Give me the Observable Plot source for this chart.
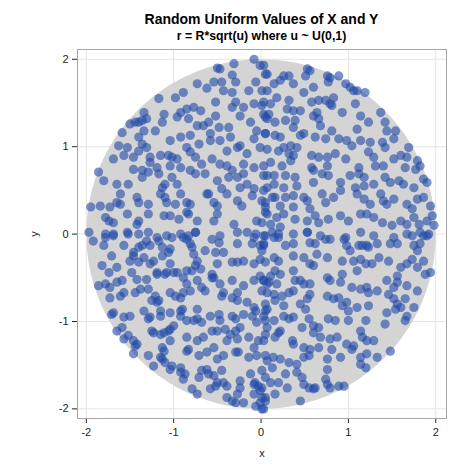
<!DOCTYPE html>
<html><head><meta charset="utf-8">
<script src="https://cdn.jsdelivr.net/npm/d3@7"></script>
<script src="https://cdn.jsdelivr.net/npm/@observablehq/plot@0.6"></script>
<style>
body{margin:0;background:#fff;font-family:"Liberation Sans",Arial,sans-serif;}
#head{position:relative;width:474px;height:44px;}
#head div{position:absolute;left:261.5px;transform:translateX(-50%);white-space:nowrap;font-weight:bold;color:#000;line-height:1;}
#t1{top:12px;font-size:14px;}
#t2{top:30px;font-size:12.3px;}
</style></head><body>
<div id="head"><div id="t1"></div><div id="t2"></div></div>
<div id="chart"></div>
<script>
const titleText = "Random Uniform Values of X and Y";
const subtitleText = "r = R*sqrt(u) where u ~ U(0,1)";
const xLabel = "x";
const yLabel = "y";
const tickValues = [-2, -1, 0, 1, 2];
const R = 2;

const upperLeft = [
[-0.08,2.00],[-0.01,1.93],[0.05,1.83],[-0.50,1.90],[-0.47,1.89],[-0.31,1.95],[-0.33,1.82],
[-0.54,1.74],[-0.45,1.74],[-0.29,1.74],[-0.62,1.67],[-0.73,1.72],[-0.33,1.62],[-0.14,1.64],[-0.06,1.74],[0.01,1.64],[-0.43,1.64],
[-0.98,1.56],[-0.89,1.62],[-1.17,1.55],[-0.52,1.51],[-0.29,1.51],[-0.20,1.45],[-0.08,1.49],[0.03,1.51],[-0.33,1.45],[-0.77,1.45],[-0.69,1.41],[-0.92,1.39],[-0.85,1.43],
[-1.34,1.39],[-1.44,1.28],[-1.40,1.28],[-1.36,1.30],[-1.50,1.26],[-1.59,1.16],[-1.31,1.32],[-1.11,1.37],[-1.13,1.28],[-0.96,1.34],[-0.83,1.32],[-0.73,1.24],[-0.60,1.28],[-0.52,1.35],[-0.48,1.22],[-0.37,1.22],[-0.24,1.35],[-0.12,1.28],[0.03,1.37],[0.07,1.32],[-0.05,1.18],[-0.58,1.15],[-0.66,1.24],
[-1.63,1.01],[-1.53,0.99],[-1.40,1.11],[-1.34,1.18],[-1.36,1.03],[-1.31,0.99],[-1.21,1.18],[-1.04,1.07],[-0.92,1.11],[-0.81,1.13],[-0.71,1.03],[-0.85,0.99],[-0.58,1.07],[-0.47,1.07],[-0.35,1.11],[-0.24,1.01],[-0.08,1.09],[0.05,1.15],[-0.39,0.95],[-0.27,0.99],[-0.16,0.92],[-0.01,0.99],
[-1.69,0.86],[-1.57,0.90],[-1.46,0.88],[-1.40,0.95],[-1.27,0.88],[-1.15,0.90],[-1.06,0.90],[-1.02,0.88],[-0.96,0.86],[-0.81,0.94],[-0.75,0.88],[-0.92,0.76],[-1.04,0.78],[-1.19,0.76],[-1.46,0.74],[-1.36,0.73],[-1.27,0.82],[-0.68,0.80],[-0.56,0.86],[-0.47,0.80],[-0.39,0.78],[-0.33,0.73],[-0.20,0.80],[-0.08,0.76],[0.03,0.78],[-0.20,0.69],[0.07,0.67],
[-1.86,0.71],[-1.80,0.61],[-1.65,0.57],[-1.52,0.57],[-1.36,0.65],[-1.29,0.71],[-1.17,0.69],[-1.13,0.53],[-1.10,0.57],[-1.02,0.65],[-0.96,0.57],[-0.81,0.73],[-0.75,0.69],[-0.64,0.69],[-0.50,0.61],[-0.45,0.52],[-0.37,0.65],[-0.27,0.65],[-0.24,0.53],[-0.16,0.57],[-0.08,0.52],[0.03,0.50],[0.05,0.36],[-0.62,0.46],
[-1.61,0.46],[-1.65,0.36],[-1.61,0.34],[-1.40,0.36],[-1.29,0.34],[-1.42,0.42],[-1.15,0.46],[-1.10,0.42],[-1.08,0.36],[-0.92,0.46],[-0.85,0.36],[-0.81,0.34],[-0.98,0.34],[-0.54,0.36],[-0.50,0.32],[-0.60,0.46],[-0.39,0.46],[-0.27,0.38],[-0.22,0.32],[-0.10,0.44],[0.01,0.38],[-1.95,0.31],[-1.84,0.32],[-1.73,0.31],
[-1.78,0.19],[-1.74,0.15],[-1.69,0.13],[-1.53,0.23],[-1.40,0.15],[-1.42,0.11],[-1.29,0.23],[-1.11,0.21],[-1.04,0.21],[-0.94,0.17],[-0.85,0.25],[-0.83,0.23],[-0.73,0.15],[-0.54,0.15],[-0.50,0.23],[-0.31,0.11],[-0.05,0.15],[0.01,0.13],[0.05,0.25],
[-1.97,0.02],[-1.78,0.00],[-1.69,0.00],[-1.53,0.02],[-1.40,0.00],[-1.29,0.02],[-1.19,-0.04],[-1.02,-0.04],[-0.89,-0.04],[-0.83,-0.02],[-0.75,0.02],[-0.56,-0.06],[-0.47,-0.02],[-0.27,0.02],[-0.16,0.02],[-0.06,0.00],[0.05,-0.02]
];

const upperRight = [
[0.03,1.93],[0.07,1.83],[0.26,1.81],[0.32,1.81],[0.22,1.76],[0.37,1.72],[0.53,1.89],[0.56,1.87],[0.51,1.81],[0.49,1.62],[0.60,1.68],[0.76,1.81],[0.79,1.79],[0.77,1.74],[0.89,1.81],[0.97,1.72],[1.02,1.68],[1.06,1.64],[1.10,1.64],[1.19,1.62],[0.07,1.64],[0.15,1.72],
[0.01,1.47],[0.11,1.49],[0.18,1.56],[0.32,1.53],[0.45,1.41],[0.58,1.51],[0.66,1.53],[0.74,1.53],[0.79,1.49],[0.83,1.56],[0.81,1.47],[0.93,1.39],[1.08,1.49],[1.14,1.35],[0.30,1.43],[0.37,1.41],
[0.09,1.37],[0.05,1.34],[0.28,1.30],[0.16,1.28],[0.39,1.30],[0.64,1.39],[0.66,1.32],[0.68,1.24],[0.60,1.35],[1.23,1.28],[1.37,1.39],[1.42,1.28],[1.44,1.18],[1.54,1.18],[1.10,1.20],[0.49,1.15],
[0.05,1.15],[0.16,1.13],[0.22,1.11],[0.37,1.22],[0.45,1.13],[0.62,1.11],[0.74,1.09],[0.81,1.18],[0.89,1.09],[0.98,1.07],[1.04,1.01],[1.14,1.07],[1.25,1.05],[1.39,1.05],[1.42,0.99],[1.52,1.09],[1.69,0.99],[0.07,0.97],[0.26,0.99],[0.34,1.01],[0.41,0.99],
[0.20,0.95],[0.32,0.92],[0.37,0.90],[0.34,0.84],[0.11,0.82],[0.24,0.78],[0.58,0.90],[0.66,0.88],[0.76,0.88],[0.85,0.92],[0.97,0.86],[1.12,0.76],[1.23,0.94],[1.29,0.88],[1.31,0.78],[1.40,0.78],[1.52,0.86],[1.60,0.90],[1.67,0.88],[1.79,0.84],[1.82,0.78],[1.65,0.76],[1.77,0.74],[0.76,0.78],
[0.03,0.67],[0.15,0.67],[0.28,0.67],[0.39,0.65],[0.58,0.76],[0.60,0.73],[0.60,0.59],[0.70,0.69],[0.77,0.67],[0.91,0.59],[1.02,0.67],[1.12,0.69],[1.18,0.65],[1.08,0.53],[1.18,0.55],[1.29,0.57],[1.42,0.65],[1.48,0.59],[1.58,0.61],[1.63,0.57],[1.75,0.53],[1.86,0.63],[1.90,0.59],[0.07,0.53],[0.15,0.57],[0.26,0.53],[0.41,0.55],
[0.13,0.42],[0.16,0.42],[0.28,0.42],[0.37,0.44],[0.49,0.42],[0.53,0.38],[0.74,0.36],[0.70,0.46],[0.83,0.42],[0.91,0.50],[1.10,0.46],[1.18,0.40],[1.25,0.34],[1.37,0.46],[1.40,0.38],[1.44,0.34],[1.52,0.40],[1.67,0.34],[1.79,0.40],[1.86,0.42],[1.94,0.32],[1.73,0.29],[0.05,0.31],[0.22,0.32],[0.37,0.31],[0.56,0.29],
[0.07,0.23],[0.18,0.19],[0.26,0.23],[0.39,0.17],[0.53,0.15],[0.62,0.21],[0.66,0.13],[0.77,0.17],[0.91,0.21],[1.00,0.15],[1.14,0.23],[1.21,0.23],[1.29,0.19],[1.39,0.13],[1.50,0.10],[1.60,0.15],[1.67,0.11],[1.75,0.19],[1.81,0.11],[1.90,0.15],[1.96,0.21],[1.98,0.10],[0.11,0.11],[0.22,0.08],
[0.03,-0.02],[0.13,0.02],[0.20,-0.04],[0.37,0.00],[0.53,0.02],[0.68,-0.02],[0.79,-0.06],[0.97,-0.04],[1.14,0.02],[1.29,-0.02],[1.52,-0.04],[1.73,-0.02],[1.82,0.02],[1.90,-0.02]
];

const lowerLeft = [
[-1.92,-0.08],[-1.78,-0.04],[-1.80,-0.13],[-1.69,-0.02],[-1.52,0.00],[-1.57,-0.13],[-1.46,-0.21],[-1.40,-0.15],[-1.36,-0.13],[-1.27,-0.13],[-1.31,-0.08],[-1.17,-0.08],[-1.13,-0.15],[-1.04,-0.17],[-1.08,-0.02],[-0.92,0.00],[-0.85,-0.06],[-0.81,-0.11],[-0.79,-0.15],[-0.75,0.02],[-0.64,-0.19],[-0.52,-0.21],[-0.48,-0.10],[-0.43,-0.21],[-0.27,-0.11],[-0.10,-0.11],[-0.08,-0.04],[0.03,-0.13],[-0.01,-0.13],
[-1.82,-0.36],[-1.71,-0.25],[-1.74,-0.44],[-1.65,-0.38],[-1.50,-0.31],[-1.46,-0.25],[-1.40,-0.32],[-1.34,-0.27],[-1.27,-0.34],[-1.23,-0.31],[-1.13,-0.25],[-1.06,-0.21],[-1.04,-0.34],[-0.96,-0.44],[-0.77,-0.23],[-0.73,-0.31],[-0.75,-0.36],[-0.85,-0.42],[-0.50,-0.34],[-0.33,-0.32],[-0.27,-0.32],[-0.20,-0.31],[-0.08,-0.34],[-0.01,-0.29],[-0.69,-0.40],[-1.19,-0.44],[-1.08,-0.44],[-1.00,-0.44],
[-1.86,-0.59],[-1.78,-0.57],[-1.73,-0.61],[-1.65,-0.55],[-1.59,-0.53],[-1.48,-0.44],[-1.42,-0.52],[-1.31,-0.52],[-1.19,-0.46],[-1.10,-0.46],[-0.89,-0.50],[-0.85,-0.57],[-0.79,-0.42],[-0.73,-0.53],[-0.56,-0.46],[-0.56,-0.50],[-0.54,-0.50],[-0.47,-0.57],[-0.33,-0.53],[-0.27,-0.67],[-0.20,-0.59],[-0.08,-0.53],[0.03,-0.53],[0.07,-0.57],[-0.01,-0.48],[-1.73,-0.73],[-1.61,-0.71],
[-1.57,-0.67],[-1.44,-0.67],[-1.38,-0.63],[-1.29,-0.63],[-1.21,-0.71],[-1.17,-0.76],[-1.19,-0.78],[-1.25,-0.76],[-1.04,-0.67],[-0.98,-0.71],[-0.92,-0.73],[-0.81,-0.65],[-0.89,-0.67],[-0.68,-0.61],[-0.64,-0.65],[-0.45,-0.71],[-0.43,-0.67],[-0.33,-0.73],[-0.27,-0.76],[-0.16,-0.78],[-0.08,-0.84],[-0.06,-0.88],[0.05,-0.80],[0.07,-0.86],[-0.73,-0.86],[-0.90,-0.86],[-0.92,-0.88],[-1.34,-0.88],[-1.15,-0.88],
[-1.71,-0.92],[-1.69,-0.90],[-1.57,-0.95],[-1.50,-0.94],[-1.29,-0.97],[-1.27,-0.95],[-1.15,-0.94],[-1.04,-0.90],[-1.00,-1.05],[-0.92,-0.94],[-0.85,-0.99],[-0.77,-0.99],[-0.73,-0.97],[-0.68,-1.01],[-0.58,-0.94],[-0.48,-0.92],[-0.47,-0.99],[-0.41,-1.09],[-0.33,-0.94],[-0.29,-0.97],[-0.24,-1.07],[-0.20,-0.92],[-0.10,-0.94],[-0.05,-1.01],[0.05,-0.99],[-1.59,-1.07],
[-1.65,-1.11],[-1.57,-1.20],[-1.52,-1.16],[-1.44,-1.28],[-1.42,-1.26],[-1.23,-1.13],[-1.25,-1.11],[-1.15,-1.15],[-1.11,-1.13],[-1.06,-1.11],[-1.04,-1.09],[-0.85,-1.18],[-0.73,-1.22],[-0.66,-1.18],[-0.56,-1.11],[-0.50,-1.11],[-0.39,-1.22],[-0.35,-1.15],[-0.29,-1.11],[-0.27,-1.20],[-0.14,-1.18],[-0.08,-1.30],[-0.03,-1.22],[0.05,-1.15],[-1.46,-1.22],[-1.13,-1.30],[-1.04,-1.22],
[-1.46,-1.37],[-1.29,-1.39],[-1.23,-1.51],[-1.15,-1.41],[-1.11,-1.34],[-1.13,-1.43],[-1.02,-1.51],[-0.92,-1.53],[-0.85,-1.34],[-0.83,-1.32],[-0.71,-1.39],[-0.62,-1.35],[-0.54,-1.30],[-0.50,-1.43],[-0.43,-1.39],[-0.29,-1.35],[-0.26,-1.35],[-0.14,-1.41],[-0.05,-1.39],[0.07,-1.45],[-1.10,-1.47],
[-1.04,-1.55],[-0.92,-1.58],[-0.87,-1.60],[-0.89,-1.66],[-0.71,-1.64],[-0.68,-1.56],[-0.62,-1.55],[-0.60,-1.60],[-0.54,-1.62],[-0.45,-1.56],[-0.43,-1.70],[-0.39,-1.74],[-0.24,-1.76],[-0.24,-1.68],[-0.12,-1.60],[-0.08,-1.72],[-0.03,-1.74],[0.01,-1.76],[-0.07,-1.70],
[-0.79,-1.77],[-0.73,-1.83],[-0.58,-1.77],[-0.52,-1.74],[-0.50,-1.70],[-0.39,-1.87],[-0.33,-1.91],[-0.27,-1.83],[-0.20,-1.93],[-0.08,-1.83],[-0.01,-1.79],[0.05,-1.87],[-0.01,-1.93],[0.03,-2.00],[-0.29,-1.93],[-0.06,-1.97]
];

const lowerRight = [
[0.03,-0.11],[0.15,-0.04],[0.20,0.00],[0.28,-0.13],[0.37,-0.11],[0.53,0.02],[0.56,-0.10],[0.62,-0.11],[0.74,-0.06],[0.95,-0.06],[0.98,-0.13],[1.12,-0.13],[1.16,-0.13],[1.21,-0.13],[1.23,-0.15],[1.33,-0.11],[1.48,-0.11],[1.56,-0.11],[1.67,0.00],[1.75,-0.13],[1.82,-0.11],[1.86,-0.02],[1.92,0.00],[1.79,-0.19],[0.01,-0.19],
[0.05,-0.32],[0.15,-0.27],[0.20,-0.31],[0.16,-0.42],[0.37,-0.25],[0.49,-0.27],[0.56,-0.34],[0.60,-0.36],[0.64,-0.23],[0.76,-0.27],[0.93,-0.31],[1.02,-0.19],[1.06,-0.31],[1.14,-0.29],[1.20,-0.34],[1.27,-0.34],[1.35,-0.27],[1.46,-0.31],[1.60,-0.38],[1.67,-0.34],[1.73,-0.29],[1.79,-0.38],[1.86,-0.31],[1.88,-0.46],[1.94,-0.44],[0.37,-0.42],
[0.03,-0.53],[0.11,-0.48],[0.22,-0.46],[0.09,-0.55],[0.18,-0.57],[0.39,-0.53],[0.45,-0.53],[0.49,-0.57],[0.56,-0.57],[0.76,-0.50],[0.79,-0.53],[0.91,-0.55],[0.93,-0.46],[1.10,-0.42],[1.04,-0.61],[1.14,-0.63],[1.21,-0.61],[1.33,-0.65],[1.23,-0.67],[1.44,-0.53],[1.52,-0.61],[1.56,-0.55],[1.56,-0.48],[1.67,-0.59],[1.79,-0.65],[0.01,-0.65],
[0.07,-0.67],[0.15,-0.69],[0.24,-0.71],[0.16,-0.76],[0.32,-0.67],[0.37,-0.65],[0.53,-0.74],[0.56,-0.69],[0.76,-0.71],[0.83,-0.74],[0.89,-0.73],[0.93,-0.82],[0.98,-0.78],[1.00,-0.88],[1.10,-0.84],[1.23,-0.82],[1.46,-0.69],[1.52,-0.74],[1.56,-0.80],[1.60,-0.84],[1.65,-0.74],[1.75,-0.84],[0.05,-0.88],[0.26,-0.82],[0.45,-0.80],
[0.03,-0.94],[0.15,-0.99],[0.26,-0.94],[0.32,-0.97],[0.37,-0.95],[0.51,-0.86],[0.47,-1.07],[0.55,-0.97],[0.60,-1.05],[0.66,-1.07],[0.77,-0.97],[0.85,-0.99],[1.00,-0.99],[1.14,-1.11],[1.20,-0.99],[1.44,-0.90],[1.42,-1.03],[1.54,-0.86],[1.65,-0.99],[1.67,-0.94],[0.22,-1.11],[0.07,-1.07],
[0.03,-1.22],[0.16,-1.18],[0.20,-1.13],[0.36,-1.22],[0.37,-1.26],[0.49,-1.30],[0.56,-1.32],[0.66,-1.30],[0.68,-1.18],[0.79,-1.20],[0.81,-1.32],[0.87,-1.18],[0.98,-1.26],[1.04,-1.32],[1.06,-1.28],[1.16,-1.18],[1.21,-1.22],[1.21,-1.37],[1.29,-1.22],[1.33,-1.41],[1.48,-1.34],[0.60,-1.13],
[0.05,-1.39],[0.14,-1.41],[0.22,-1.43],[0.32,-1.47],[0.13,-1.53],[0.49,-1.41],[0.55,-1.39],[0.76,-1.43],[0.91,-1.41],[0.76,-1.55],[1.14,-1.41],[1.14,-1.49],[1.20,-1.53],[0.41,-1.49],
[0.01,-1.56],[0.05,-1.64],[0.11,-1.70],[0.20,-1.70],[0.28,-1.60],[0.30,-1.76],[0.41,-1.58],[0.47,-1.64],[0.49,-1.72],[0.55,-1.76],[0.60,-1.77],[0.62,-1.76],[0.76,-1.72],[0.79,-1.76],[0.89,-1.74],[0.95,-1.74],[0.74,-1.66],
[0.01,-1.87],[0.05,-1.91],[0.16,-1.83],[0.45,-1.91],[0.01,-2.00]
];

const points = [...upperLeft, ...upperRight, ...lowerLeft, ...lowerRight].map(([x, y]) => ({x, y}));
const disk = d3.range(0, 361, 2).map(a => ({x: R * Math.cos(a * Math.PI / 180), y: R * Math.sin(a * Math.PI / 180)}));

document.getElementById("t1").textContent = titleText;
document.getElementById("t2").textContent = subtitleText;

const hasGridMarks = typeof Plot.gridX === "function";
const gridMarks = hasGridMarks ? [
  Plot.gridX(tickValues, {stroke: "#e4e4e4", strokeOpacity: 1}),
  Plot.gridY(tickValues, {stroke: "#e4e4e4", strokeOpacity: 1})
] : [];

const chart = Plot.plot({
  width: 474,
  height: 430,
  marginTop: 5,
  marginBottom: 56,
  marginLeft: 77,
  marginRight: 28,
  style: {fontFamily: "'Liberation Sans', Arial, sans-serif", fontSize: "11px", color: "#222", background: "#fff"},
  x: {domain: [-2.101, 2.123], ticks: tickValues, tickFormat: d => String(d), tickSize: 5, tickPadding: 5, grid: !hasGridMarks, label: xLabel, labelAnchor: "center", labelOffset: 38, labelArrow: "none"},
  y: {domain: [-2.11, 2.112], ticks: tickValues, tickFormat: d => String(d), tickSize: 5, tickPadding: 4, grid: !hasGridMarks, label: yLabel, labelAnchor: "center", labelOffset: 47, labelArrow: "none"},
  marks: [
    ...gridMarks,
    Plot.line(disk, {x: "x", y: "y", fill: "#d4d4d4", stroke: "none"}),
    Plot.dot(points, {x: "x", y: "y", r: 4.6, fill: "#1f4aa8", fillOpacity: 0.6, stroke: "none"}),
    Plot.frame({stroke: "#a6a6a6"})
  ]
});
document.getElementById("chart").appendChild(chart);
</script>
</body></html>
